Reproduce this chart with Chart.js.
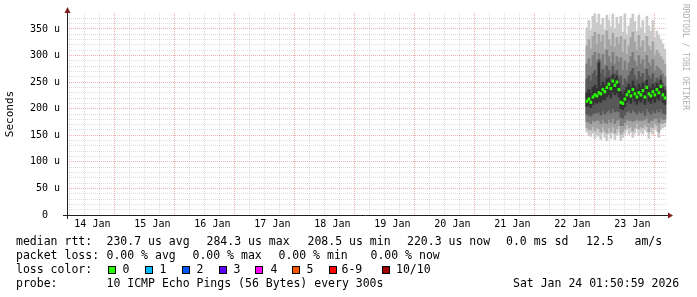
<!DOCTYPE html>
<html>
<head>
<meta charset="utf-8">
<script src="https://cdn.jsdelivr.net/npm/chart.js@4.4.1/dist/chart.umd.min.js"></script>
<style>
  body { margin: 0; background: #fff; }
  #wrap { position: relative; width: 697px; height: 297px; overflow: hidden; }
  .t { position: absolute; font: 11.5px 'DejaVu Sans Mono', monospace; color: #000; line-height: 14px; white-space: pre; }
  .box { position: absolute; top: 266px; width: 8px; height: 8px; box-sizing: border-box; border: 1px solid #000; }
  #wm { position: absolute; left: 681px; top: 4px; font: 8px 'DejaVu Sans Mono', monospace; color: #b0b0b0; writing-mode: vertical-rl; white-space: pre; }
</style>
</head>
<body>
<div id="wrap">
  <canvas id="c" width="697" height="297"></canvas>
  <div id="wm">RRDTOOL / TOBI OETIKER</div>

  <div class="t" style="left:16px;top:234px">median rtt:</div>
  <div class="t" style="left:106.5px;top:234px">230.7 us avg</div>
  <div class="t" style="left:206.5px;top:234px">284.3 us max</div>
  <div class="t" style="left:307.5px;top:234px">208.5 us min</div>
  <div class="t" style="left:407px;top:234px">220.3 us now</div>
  <div class="t" style="left:506px;top:234px">0.0 ms sd</div>
  <div class="t" style="left:586px;top:234px">12.5</div>
  <div class="t" style="left:634.5px;top:234px">am/s</div>

  <div class="t" style="left:16px;top:248px">packet loss:</div>
  <div class="t" style="left:106.5px;top:248px">0.00 % avg</div>
  <div class="t" style="left:192.5px;top:248px">0.00 % max</div>
  <div class="t" style="left:278.5px;top:248px">0.00 % min</div>
  <div class="t" style="left:370.5px;top:248px">0.00 % now</div>

  <div class="t" style="left:16px;top:262px">loss color:</div>
  <div class="box" style="left:108px;background:#26ff00"></div><div class="t" style="left:122.5px;top:262px">0</div>
  <div class="box" style="left:145px;background:#00b8ff"></div><div class="t" style="left:159.5px;top:262px">1</div>
  <div class="box" style="left:182px;background:#0059ff"></div><div class="t" style="left:196.5px;top:262px">2</div>
  <div class="box" style="left:219px;background:#5e00ff"></div><div class="t" style="left:233.5px;top:262px">3</div>
  <div class="box" style="left:255px;background:#ff00ff"></div><div class="t" style="left:270.5px;top:262px">4</div>
  <div class="box" style="left:292px;background:#ff5500"></div><div class="t" style="left:306.5px;top:262px">5</div>
  <div class="box" style="left:329px;background:#ff0000"></div><div class="t" style="left:341.5px;top:262px">6-9</div>
  <div class="box" style="left:382px;background:#a10000"></div><div class="t" style="left:396px;top:262px">10/10</div>

  <div class="t" style="left:16px;top:276px">probe:</div>
  <div class="t" style="left:106.5px;top:276px">10 ICMP Echo Pings (56 Bytes) every 300s</div>
  <div class="t" style="left:513px;top:276px">Sat Jan 24 01:50:59 2026</div>
</div>
<script>
// time axis in hours since 14 Jan 00:00
const viewStart = 1.85;      // Jan 14 01:51
const viewEnd = 241.85;      // Jan 24 01:51
const firstSample = 209.8;   // Jan 22 17:48
const sampleStep = 0.8;      // 48 min per consolidated column

const dayLabels = ['14 Jan', '15 Jan', '16 Jan', '17 Jan', '18 Jan', '19 Jan', '20 Jan', '21 Jan', '22 Jan', '23 Jan'];
const yTickValues = [0, 50, 100, 150, 200, 250, 300, 350];
const yTickLabels = ['0  ', '50 u', '100 u', '150 u', '200 u', '250 u', '300 u', '350 u'];

// sorted pings per column (us), p1 lowest .. p10 highest
const p1  = [156,150,148,154,144,150,148,142,154,146,140,152,144,154,142,150,156,140,146,152,160,152,156,146,154,162,150,156,152,160,156,144,156,152,162,158,146,162,164,166];
const p2  = [164,160,160,166,158,164,162,156,166,158,154,164,156,166,154,162,168,152,156,162,170,164,166,158,164,172,162,166,164,170,166,156,166,164,172,168,156,172,172,174];
const p3  = [176,174,172,178,176,178,178,172,180,174,172,180,174,182,172,178,180,168,168,174,180,178,178,176,178,180,178,178,178,180,182,174,178,178,182,182,174,184,180,180];
const p4  = [190,188,186,190,192,192,194,188,196,190,194,198,192,200,194,196,194,184,182,188,194,196,192,198,194,190,196,192,196,188,200,194,190,196,192,198,194,200,192,190];
const p5  = [204,206,202,208,212,210,214,212,218,216,222,226,220,232,226,230,222,200,198,204,212,216,210,220,214,208,216,212,218,208,224,214,210,218,212,220,216,226,212,208];
const p6  = [230,236,228,240,244,238,286,242,250,244,256,258,250,264,256,262,248,232,226,234,240,246,240,252,242,236,246,240,248,236,254,242,238,246,240,248,242,254,240,234];
const p7  = [256,262,252,266,272,262,292,266,274,260,280,272,262,280,266,272,258,262,244,256,250,262,270,276,262,254,270,260,266,252,274,262,256,266,250,258,254,262,248,242];
const p8  = [284,294,280,300,306,290,304,292,302,282,310,298,286,306,284,298,288,296,272,290,272,286,298,306,290,280,300,284,292,276,300,286,280,292,272,280,276,272,266,260];
const p9  = [318,330,312,336,344,322,340,326,338,312,346,330,318,342,316,334,322,336,306,330,302,318,334,344,326,310,338,316,328,306,336,318,310,326,300,310,304,298,292,284];
const p10 = [352,366,348,374,378,362,378,358,370,348,376,366,354,378,350,372,360,374,344,378,340,356,370,378,364,346,376,352,366,342,374,356,346,366,334,346,338,330,322,312];
const median = [214,218,212,222,226,224,230,228,236,232,240,246,238,252,244,250,236,212,210,218,226,232,224,236,228,222,230,226,234,222,240,228,224,232,226,236,230,242,226,220];

const hours = median.map((_, i) => firstSample + i * sampleStep);
const band = (lo, hi) => hours.map((h, i) => ({ x: h, y: [lo[i], hi[i]] }));
const medianHalf = 2.4; // marker half height in us

const bandStyle = { type: 'bar', barThickness: 2, borderWidth: 0, grouped: false };
const minorGrid = 'rgba(143,143,143,0.3)';
const majorGrid = 'rgba(222,79,79,0.45)';

const axisArrows = {
  id: 'axisArrows',
  afterDraw(chart) {
    const { ctx, chartArea: a } = chart;
    ctx.save();
    ctx.strokeStyle = '#1f1f1f';
    ctx.lineWidth = 1;
    ctx.beginPath();
    ctx.moveTo(a.left + 0.5, a.bottom + 4);
    ctx.lineTo(a.left + 0.5, a.top - 1);
    ctx.moveTo(a.left - 4, a.bottom + 0.5);
    ctx.lineTo(a.right + 1, a.bottom + 0.5);
    ctx.stroke();
    ctx.fillStyle = '#801f1f';
    ctx.beginPath();
    ctx.moveTo(a.left + 0.5, a.top - 6);
    ctx.lineTo(a.left - 2.5, a.top);
    ctx.lineTo(a.left + 3.5, a.top);
    ctx.fill();
    ctx.beginPath();
    ctx.moveTo(a.right + 6, a.bottom + 0.5);
    ctx.lineTo(a.right + 1, a.bottom - 2.5);
    ctx.lineTo(a.right + 1, a.bottom + 3.5);
    ctx.fill();
    ctx.restore();
  }
};

new Chart(document.getElementById('c'), {
  type: 'bar',
  data: {
    datasets: [
      { ...bandStyle, label: 'median', order: 0, backgroundColor: '#26ff00',
        data: hours.map((h, i) => ({ x: h, y: [median[i] - medianHalf, median[i] + medianHalf] })) },
      { ...bandStyle, label: 'p5-p6', order: 1, backgroundColor: '#323232', data: band(p5, p6) },
      { ...bandStyle, label: 'p4-p7', order: 2, backgroundColor: '#585858', data: band(p4, p7) },
      { ...bandStyle, label: 'p3-p8', order: 3, backgroundColor: '#7e7e7e', data: band(p3, p8) },
      { ...bandStyle, label: 'p2-p9', order: 4, backgroundColor: '#a4a4a4', data: band(p2, p9) },
      { ...bandStyle, label: 'p1-p10', order: 5, backgroundColor: '#cacaca', data: band(p1, p10) }
    ]
  },
  options: {
    responsive: false,
    animation: false,
    devicePixelRatio: 1,
    layout: { padding: { left: 0, top: 13, right: 30, bottom: 0 } },
    plugins: { legend: { display: false }, tooltip: { enabled: false } },
    scales: {
      x: {
        type: 'linear',
        min: viewStart,
        max: viewEnd,
        offset: false,
        z: 1,
        afterFit: s => { s.height = 82; },
        afterBuildTicks: s => {
          const t = [];
          for (let h = 6; h <= 240; h += 6) t.push({ value: h });
          s.ticks = t;
        },
        ticks: {
          autoSkip: false,
          maxRotation: 0,
          padding: 3,
          color: '#000',
          font: { family: 'DejaVu Sans Mono', size: 10 },
          callback: v => ((v - 12) % 24 === 0 ? dayLabels[(v - 12) / 24] : '')
        },
        grid: {
          drawTicks: false,
          lineWidth: 1,
          color: c => (c.tick && c.tick.value % 24 === 0 ? majorGrid : minorGrid)
        },
        border: { display: false, dash: [1, 1] }
      },
      y: {
        min: 0,
        max: 380,
        z: 1,
        afterFit: s => { s.width = 67; },
        afterBuildTicks: s => {
          const t = [];
          for (let v = 0; v <= 370; v += 10) t.push({ value: v });
          s.ticks = t;
        },
        ticks: {
          autoSkip: false,
          padding: 7,
          color: '#000',
          font: { family: 'DejaVu Sans Mono', size: 10 },
          callback: v => {
            const k = yTickValues.indexOf(v);
            return k >= 0 ? yTickLabels[k] : '';
          }
        },
        grid: {
          drawTicks: false,
          lineWidth: 1,
          color: c => {
            if (!c.tick || c.tick.value === 0) return 'rgba(0,0,0,0)';
            return c.tick.value % 50 === 0 ? majorGrid : minorGrid;
          }
        },
        border: { display: false, dash: [1, 1] },
        title: {
          display: true,
          text: 'Seconds',
          color: '#000',
          font: { family: 'DejaVu Sans Mono', size: 11 },
          padding: { top: 4, bottom: 0 }
        }
      }
    }
  },
  plugins: [axisArrows]
});
</script>
</body>
</html>
